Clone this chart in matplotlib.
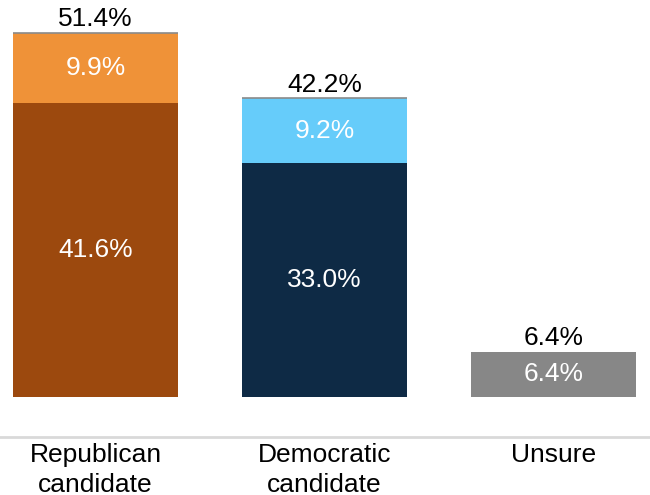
import matplotlib
matplotlib.use("Agg")
import matplotlib.pyplot as plt
import numpy as np

categories = ["Republican\ncandidate", "Democratic\ncandidate", "Unsure"]
base_values = [41.6, 33.0, 6.4]
lean_values = [9.9, 9.2, 0.0]
totals = [51.4, 42.2, 6.4]
base_colors = ["#9C490E", "#0E2A45", "#878787"]
lean_colors = ["#EF9238", "#66CCFA", "#878787"]

plt.rcParams['font.family'] = ['Liberation Sans', 'DejaVu Sans']

fig = plt.figure(figsize=(6.5, 4.95), dpi=100)
ax = fig.add_axes([0, 58/495, 1, 437/495])

x = np.arange(len(categories))
w = 0.72
ax.bar(x, base_values, width=w, color=base_colors)
ax.bar(x, lean_values, width=w, bottom=base_values, color=lean_colors)

fs = 19
for i in range(len(categories)):
    ax.text(x[i], base_values[i] / 2, f"{base_values[i]:.1f}%", ha='center', va='center',
            color='white', fontsize=fs)
    if lean_values[i] > 0:
        ax.text(x[i], base_values[i] + lean_values[i] / 2, f"{lean_values[i]:.1f}%",
                ha='center', va='center', color='white', fontsize=fs)
        top = base_values[i] + lean_values[i]
        ax.hlines(top, x[i] - w / 2, x[i] + w / 2, color='#8A8A8A', lw=1.2)
    top = base_values[i] + lean_values[i]
    ax.annotate(f"{totals[i]:.1f}%", (x[i], top), xytext=(0, 1), textcoords='offset points',
                ha='center', va='bottom', fontsize=fs, color='black')

ax.set_xlim(-0.417, 2.42)
ax.set_ylim(-5.65, 56.1)
ax.set_xticks(x)
ax.set_xticklabels(categories, fontsize=fs, linespacing=1.35)
ax.tick_params(axis='x', length=0, pad=4)
ax.set_yticks([])
for s in ['top', 'right', 'left']:
    ax.spines[s].set_visible(False)
ax.spines['bottom'].set_color('#D9D9D9')
ax.spines['bottom'].set_linewidth(2)

fig.savefig("out.png", dpi=100)
